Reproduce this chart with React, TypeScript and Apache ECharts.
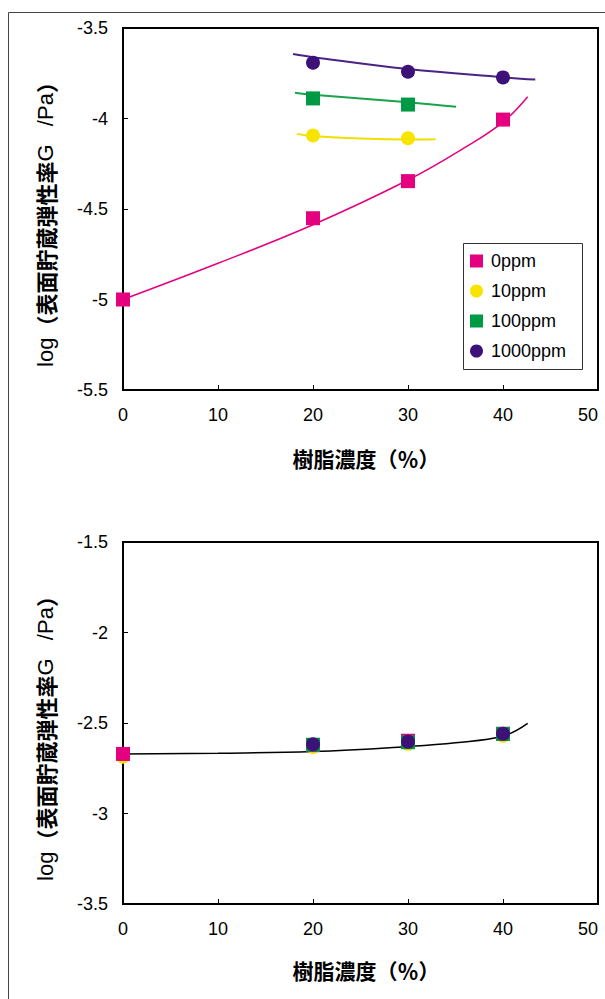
import React, { useEffect, useRef } from "react";
import * as echarts from "echarts";

// ---- data (x = resin concentration %, y = log G') ----
const SERIES_NAMES = ["0ppm", "10ppm", "100ppm", "1000ppm"];
const SERIES_COLORS = ["#E4007F", "#F7E400", "#009944", "#3C1278"];
const SERIES_SYMBOLS = ["rect", "circle", "rect", "circle"];

const top0ppm = [[0, -5.0], [20, -4.551], [30, -4.346], [40, -4.006]];
const top10ppm = [[20, -4.094], [30, -4.109]];
const top100ppm = [[20, -3.889], [30, -3.923]];
const top1000ppm = [[20, -3.692], [30, -3.742], [40, -3.773]];

const topFit0ppm = [[0, -5.0], [10, -4.8], [20, -4.587], [30, -4.34], [36, -4.16], [40, -4.02], [42.6, -3.88]];
const topFit10ppm = [[18.3, -4.085], [20, -4.097], [25, -4.111], [30, -4.116], [32.9, -4.114]];
const topFit100ppm = [[18.1, -3.858], [20, -3.869], [30, -3.91], [35.05, -3.935]];
const topFit1000ppm = [[17.9, -3.644], [20, -3.661], [30, -3.727], [40, -3.772], [43.4, -3.785]];

const bot0ppm = [[0, -2.671], [20, -2.622], [30, -2.598], [40, -2.56]];
const bot10ppm = [[0, -2.686], [20, -2.632], [30, -2.615], [40, -2.571]];
const bot100ppm = [[20, -2.62], [30, -2.606], [40, -2.56]];
const bot1000ppm = [[20, -2.618], [30, -2.603], [40, -2.559]];
const botFit = [[0, -2.671], [10, -2.667], [20, -2.658], [30, -2.63], [35, -2.609], [40, -2.572], [42.6, -2.502]];

const X_MIN = 0, X_MAX = 50, X_STEP = 10;
const TOP_Y_MIN = -5.5, TOP_Y_MAX = -3.5;
const BOT_Y_MIN = -3.5, BOT_Y_MAX = -1.5;
const Y_STEP = 0.5;

const X_TITLE = "樹脂濃度（％）";
const LATIN = "Liberation Sans";
const CJK = "Noto Sans CJK JP";

export default function App() {
  const ref = useRef<HTMLDivElement>(null);
  useEffect(() => {
    if (!ref.current) return;
    const chart = echarts.init(ref.current, null, { renderer: "svg" });

    const xAxisBase = (gridIndex: number) => ({
      type: "value",
      gridIndex,
      min: X_MIN,
      max: X_MAX,
      interval: X_STEP,
      axisLine: { show: true, lineStyle: { color: "#000", width: 2 } },
      axisTick: { show: true, inside: true, length: 5, lineStyle: { color: "#000", width: 1 } },
      axisLabel: { color: "#000", fontSize: 18, fontFamily: LATIN, margin: 16, alignMaxLabel: "right" },
      splitLine: { show: false },
    });
    const yAxisBase = (gridIndex: number, min: number, max: number) => ({
      type: "value",
      gridIndex,
      min,
      max,
      interval: Y_STEP,
      axisLine: { show: true, lineStyle: { color: "#000", width: 2 } },
      axisTick: { show: true, inside: true, length: 5, lineStyle: { color: "#000", width: 1 } },
      axisLabel: { color: "#000", fontSize: 18, fontFamily: LATIN, margin: 15 },
      splitLine: { show: false },
    });

    const scatter = (i: number, data: number[][], gi: number) => ({
      name: SERIES_NAMES[i],
      type: "scatter",
      xAxisIndex: gi,
      yAxisIndex: gi,
      symbol: SERIES_SYMBOLS[i],
      symbolSize: 14,
      itemStyle: { color: SERIES_COLORS[i], opacity: 1 },
      clip: false,
      z: 3,
      data,
    });
    const fit = (data: number[][], color: string, width: number, gi: number) => ({
      type: "line",
      xAxisIndex: gi,
      yAxisIndex: gi,
      smooth: 0.4,
      showSymbol: false,
      symbol: "none",
      lineStyle: { color, width },
      silent: true,
      z: 2,
      data,
    });

    const yTitle = (y: number) => ({
      type: "text",
      x: 45,
      y,
      rotation: Math.PI / 2,
      z: 5,
      style: {
        text: "{a|log}{b|（表面貯蔵弾性率}{a|G   /Pa}{b|）}",
        align: "center",
        verticalAlign: "middle",
        rich: {
          a: { fontFamily: LATIN, fontSize: 22, fill: "#000" },
          b: { fontFamily: CJK, fontSize: 22, fontWeight: "bold", fill: "#000" },
        },
      },
    });
    const xTitle = (y: number) => ({
      type: "text",
      x: 366,
      y,
      z: 5,
      style: {
        text: X_TITLE,
        fontFamily: CJK,
        fontSize: 21,
        fontWeight: "bold",
        fill: "#000",
        align: "center",
        verticalAlign: "middle",
      },
    });

    chart.setOption({
      animation: false,
      backgroundColor: "#fff",
      grid: [
        { left: 123, top: 28, width: 475, height: 362, show: true, borderColor: "#000", borderWidth: 2, outerBoundsMode: "none", containLabel: false },
        { left: 123, top: 542, width: 475, height: 362, show: true, borderColor: "#000", borderWidth: 2, outerBoundsMode: "none", containLabel: false },
      ],
      xAxis: [xAxisBase(0), xAxisBase(1)],
      yAxis: [yAxisBase(0, TOP_Y_MIN, TOP_Y_MAX), yAxisBase(1, BOT_Y_MIN, BOT_Y_MAX)],
      legend: {
        left: 470,
        top: 251,
        orient: "vertical",
        padding: 0,
        itemGap: 10,
        itemWidth: 13,
        itemHeight: 13,
        z: 20,
        data: SERIES_NAMES.map((n, i) => ({ name: n, icon: SERIES_SYMBOLS[i] })),
        textStyle: { color: "#000", fontSize: 18, fontFamily: LATIN, lineHeight: 20, padding: [0, 0, 0, 3] },
        selectedMode: false,
      },
      graphic: [
        {
          type: "rect",
          shape: { x: 8.5, y: 12.5, width: 700, height: 1100 },
          style: { fill: "none", stroke: "#444", lineWidth: 1 },
          silent: true,
          z: 0,
        },
        {
          type: "rect",
          shape: { x: 463.5, y: 243.5, width: 119, height: 126 },
          style: { fill: "#fff", stroke: "#333", lineWidth: 1 },
          silent: true,
          z: 4,
        },
        yTitle(219),
        yTitle(733),
        xTitle(458),
        xTitle(970),
      ],
      series: [
        fit(topFit0ppm, "#E4007F", 1.5, 0),
        fit(topFit10ppm, "#F2DE00", 2, 0),
        fit(topFit100ppm, "#1AA34A", 2, 0),
        fit(topFit1000ppm, "#4A2385", 2, 0),
        scatter(0, top0ppm, 0),
        scatter(1, top10ppm, 0),
        scatter(2, top100ppm, 0),
        scatter(3, top1000ppm, 0),
        fit(botFit, "#000", 1.5, 1),
        scatter(1, bot10ppm, 1),
        scatter(0, bot0ppm, 1),
        scatter(2, bot100ppm, 1),
        scatter(3, bot1000ppm, 1),
      ],
    });
    return () => chart.dispose();
  }, []);
  return (
    <div
      ref={ref}
      style={{ position: "fixed", left: 0, top: 0, width: 605, height: 999, background: "#fff" }}
    />
  );
}
